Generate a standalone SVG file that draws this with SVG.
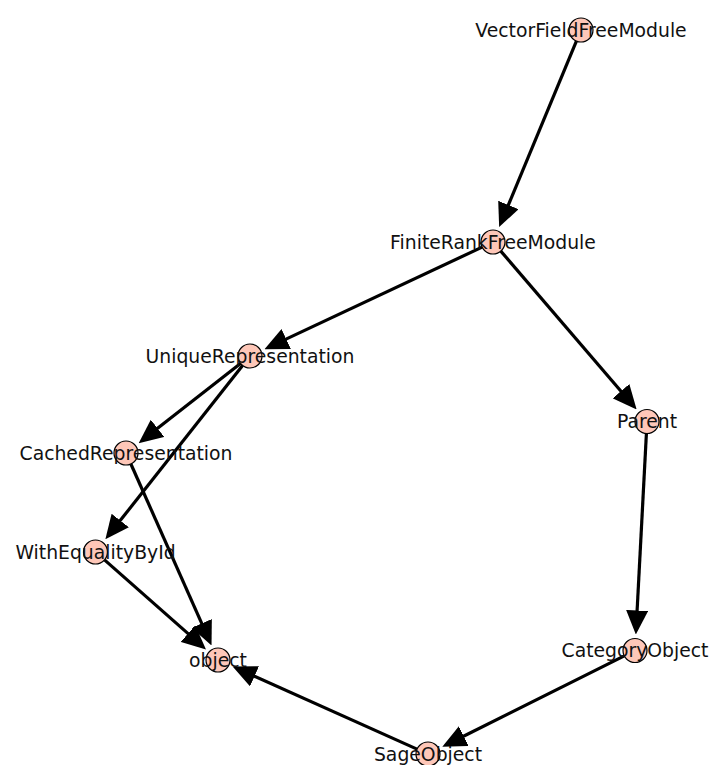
<svg xmlns="http://www.w3.org/2000/svg" width="721" height="765" viewBox="0 0 721 765">
<style>
.edge{stroke:#000;stroke-width:3.2;fill:none;marker-end:url(#ah);}
.node circle{fill:#fec7b8;stroke:#000;stroke-width:1.2;}
.node text{font-family:"DejaVu Sans",sans-serif;font-size:18.8px;fill:#111;text-anchor:middle;}
</style>
<defs>
<marker id="ah" markerUnits="userSpaceOnUse" viewBox="0 0 24 22" markerWidth="24" markerHeight="22" refX="2" refY="11" orient="auto">
<path d="M0,0 L24,11 L0,22 z" fill="#000"/>
</marker>
</defs>
<rect width="721" height="765" fill="#fff"/>
<g id="edges">
<line class="edge" x1="576.4" y1="41.1" x2="507.6" y2="206.8"/>
<line class="edge" x1="482.1" y1="247.1" x2="284.4" y2="339.9"/>
<line class="edge" x1="500.8" y1="251.1" x2="622.3" y2="392.7"/>
<line class="edge" x1="240.5" y1="363.4" x2="156" y2="429.6"/>
<line class="edge" x1="242.6" y1="365.4" x2="119" y2="522.1"/>
<line class="edge" x1="130.9" y1="464" x2="202.6" y2="625.3"/>
<line class="edge" x1="104.5" y1="559.9" x2="189.5" y2="634.9"/>
<line class="edge" x1="646.4" y1="433.5" x2="637" y2="612.5"/>
<line class="edge" x1="624.3" y1="655.9" x2="462" y2="737"/>
<line class="edge" x1="417" y1="749.1" x2="252.7" y2="675.5"/>
</g>
<g id="VectorFieldFreeModule" class="node"><circle cx="581" cy="30" r="12"/><text x="581" y="36.5">VectorFieldFreeModule</text></g>
<g id="FiniteRankFreeModule" class="node"><circle cx="493" cy="242" r="12"/><text x="493" y="248.5">FiniteRankFreeModule</text></g>
<g id="UniqueRepresentation" class="node"><circle cx="250" cy="356" r="12"/><text x="250" y="362.5">UniqueRepresentation</text></g>
<g id="Parent" class="node"><circle cx="647" cy="421.5" r="12"/><text x="647" y="428">Parent</text></g>
<g id="CachedRepresentation" class="node"><circle cx="126" cy="453" r="12"/><text x="126" y="459.5">CachedRepresentation</text></g>
<g id="WithEqualityById" class="node"><circle cx="95.5" cy="552" r="12"/><text x="95.5" y="558.5">WithEqualityById</text></g>
<g id="object" class="node"><circle cx="218" cy="660" r="12"/><text x="218" y="666.5">object</text></g>
<g id="CategoryObject" class="node"><circle cx="635" cy="650.5" r="12"/><text x="635" y="657">CategoryObject</text></g>
<g id="SageObject" class="node"><circle cx="428" cy="754" r="12"/><text x="428" y="760.5">SageObject</text></g>
</svg>
